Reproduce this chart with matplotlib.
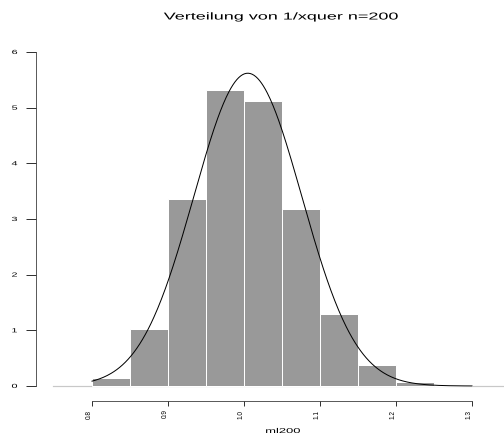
import numpy as np
import matplotlib.pyplot as plt
from matplotlib.patheffects import AbstractPathEffect
from matplotlib.transforms import Affine2D, ScaledTranslation

# Histogram of 1/xquer (density scale), bin width 0.05
bin_edges = [0.80, 0.85, 0.90, 0.95, 1.00, 1.05, 1.10, 1.15, 1.20, 1.25, 1.30]
density = [0.14, 1.02, 3.36, 5.32, 5.12, 3.18, 1.30, 0.38, 0.08, 0.02]

# fitted normal curve
fit_mean = 1.005
fit_sd = 0.071

x_ticks = [0.8, 0.9, 1.0, 1.1, 1.2, 1.3]
x_ticklabels = ['0.8', '0.9', '1.0', '1.1', '1.2', '1.3']
y_ticks = [0, 1, 2, 3, 4, 5, 6]


class HStretch(AbstractPathEffect):
    """Widen a text's glyphs horizontally about the text's own centre."""

    def __init__(self, sx):
        super().__init__()
        self.sx = sx

    def draw_path(self, renderer, gc, tpath, affine, rgbFace=None):
        ext = tpath.get_extents(affine)
        cx = 0.5 * (ext.x0 + ext.x1)
        t = affine + Affine2D().translate(-cx, 0).scale(self.sx, 1).translate(cx, 0)
        renderer.draw_path(gc, tpath, t, rgbFace)


plt.rcParams['font.family'] = ['Liberation Sans', 'DejaVu Sans']
wide = [HStretch(1.8)]

W, H = 504, 435
fig = plt.figure(figsize=(W / 72, H / 72), dpi=72)

# axes box in pixels: left 36, right 504, top 30, bottom 410
ax = fig.add_axes([36 / W, 1 - 410 / H, (504 - 36) / W, (410 - 30) / H])
ax.set_xlim(0.8 - 56 / 760, 1.3 + 32 / 760)
ax.set_ylim(-24 / 55.67, 6 + 22 / 55.67)

lefts = np.array(bin_edges[:-1])
widths = np.diff(bin_edges)
ax.bar(lefts, density, width=widths, align='edge', color='#999999',
       edgecolor='white', linewidth=1.0, zorder=2)

ax.axhline(0, xmin=(53 - 36) / (504 - 36), xmax=1, color='#c8c8c8',
           linewidth=1.2, zorder=1)

xs = np.linspace(bin_edges[0], bin_edges[-1], 400)
ys = np.exp(-0.5 * ((xs - fit_mean) / fit_sd) ** 2) / (fit_sd * np.sqrt(2 * np.pi))
ax.plot(xs, ys, color='black', linewidth=1.0, zorder=3)

for s in ['top', 'right']:
    ax.spines[s].set_visible(False)
ax.spines['left'].set_bounds(0, 6)
ax.spines['bottom'].set_bounds(0.8, 1.3)
ax.spines['bottom'].set_position(('data', -15 / 55.67))
ax.spines['left'].set_color('#333333')
ax.spines['bottom'].set_color('#333333')

ax.set_xticks(x_ticks)
ax.set_xticklabels(x_ticklabels, rotation=90, fontsize=6.5)
ax.set_yticks(y_ticks)
ax.set_yticklabels([str(v) for v in y_ticks], fontsize=6)
ax.tick_params(axis='y', length=10, width=1, color='#333333', pad=9.8)
ax.tick_params(axis='x', length=5, width=1, color='#333333', pad=3.5)

shift = ScaledTranslation(-3 / 72, 0, fig.dpi_scale_trans)
for lbl in ax.get_xticklabels():
    lbl.set_transform(lbl.get_transform() + shift)
for lbl in ax.get_yticklabels():
    lbl.set_path_effects(wide)

fig.text(281 / W, 1 - 16.5 / H, 'Verteilung von 1/xquer n=200', ha='center',
         va='center', fontsize=10, path_effects=wide)
fig.text(283 / W, 1 - 433 / H, 'ml200', ha='center', va='baseline', fontsize=7,
         path_effects=[HStretch(1.85)])

fig.savefig('out.png', dpi=72)
